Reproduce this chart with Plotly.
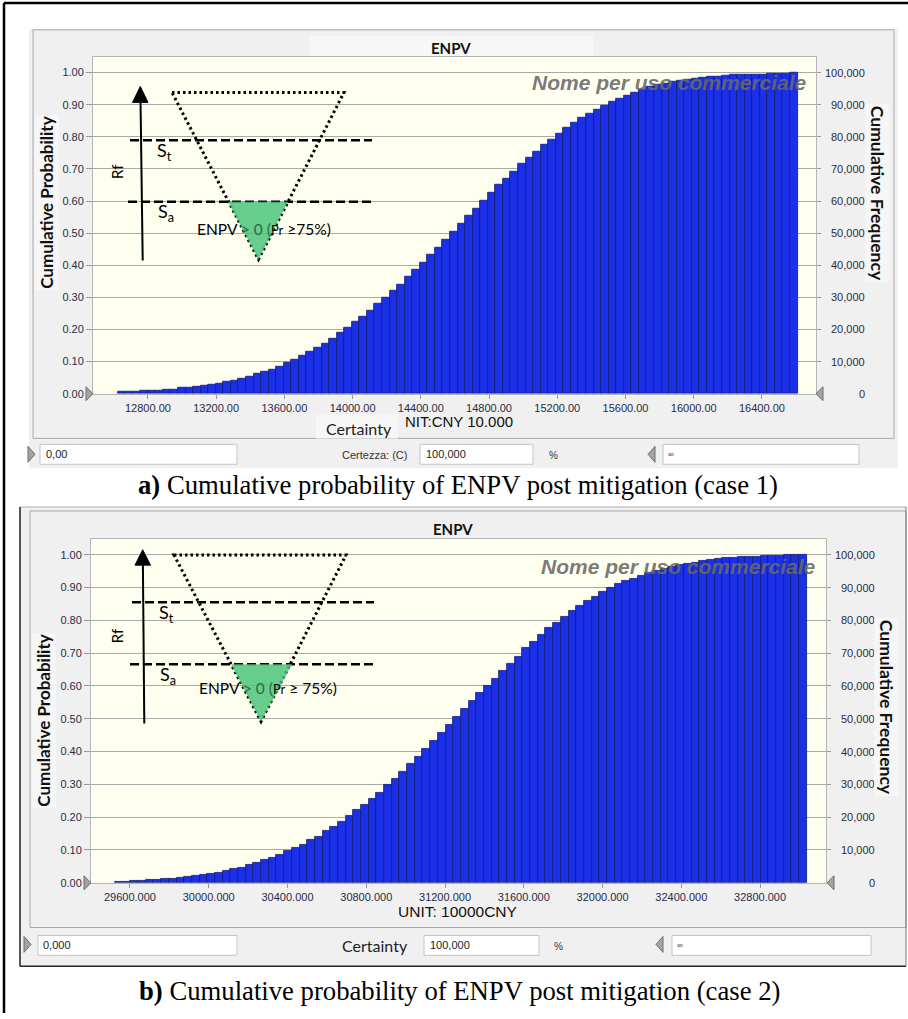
import plotly.graph_objects as go

# ---------------- data ----------------
TRIALS = 100000

# case 1: bins of ENPV (unit CNY 10.000)
A_BIN_START = 12622.0
A_BIN_WIDTH = 44.3
A_CUM_PROB = [
    0.005, 0.005, 0.006, 0.008, 0.010, 0.010, 0.012, 0.014, 0.018, 0.020,
    0.022, 0.025, 0.027, 0.032, 0.037, 0.042, 0.048, 0.053, 0.061, 0.069,
    0.076, 0.085, 0.097, 0.106, 0.118, 0.130, 0.143, 0.157, 0.172, 0.190,
    0.205, 0.223, 0.241, 0.260, 0.280, 0.299, 0.321, 0.341, 0.363, 0.386,
    0.409, 0.432, 0.456, 0.481, 0.504, 0.531, 0.555, 0.577, 0.602, 0.626,
    0.650, 0.671, 0.692, 0.715, 0.736, 0.754, 0.774, 0.792, 0.811, 0.827,
    0.843, 0.858, 0.873, 0.886, 0.897, 0.910, 0.920, 0.929, 0.937, 0.947,
    0.955, 0.961, 0.966, 0.971, 0.974, 0.977, 0.980, 0.983, 0.987, 0.988,
    0.990, 0.992, 0.993, 0.994, 0.995, 0.995, 0.997, 0.998, 0.998, 1.000,
]

# case 2: bins of ENPV (unit 10000 CNY)
B_BIN_START = 29524.0
B_BIN_WIDTH = 39.04
B_CUM_PROB = [
    0.004, 0.004, 0.005, 0.007, 0.008, 0.010, 0.011, 0.013, 0.015, 0.018,
    0.020, 0.023, 0.028, 0.030, 0.036, 0.042, 0.047, 0.056, 0.061, 0.069,
    0.077, 0.085, 0.096, 0.106, 0.117, 0.131, 0.141, 0.158, 0.171, 0.187,
    0.203, 0.221, 0.237, 0.257, 0.275, 0.298, 0.317, 0.339, 0.363, 0.385,
    0.409, 0.432, 0.457, 0.482, 0.505, 0.529, 0.554, 0.578, 0.599, 0.623,
    0.647, 0.669, 0.690, 0.715, 0.736, 0.755, 0.776, 0.793, 0.811, 0.829,
    0.845, 0.859, 0.872, 0.886, 0.899, 0.911, 0.920, 0.928, 0.937, 0.944,
    0.951, 0.958, 0.964, 0.968, 0.973, 0.976, 0.981, 0.984, 0.987, 0.990,
    0.990, 0.993, 0.993, 0.995, 0.996, 0.998, 0.998, 0.999, 0.999, 1.000,
]

A_XTICKS = [12800, 13200, 13600, 14000, 14400, 14800, 15200, 15600, 16000, 16400]
B_XTICKS = [29600, 30000, 30400, 30800, 31200, 31600, 32000, 32400, 32800]
PROB_TICKS = [0.0, 0.1, 0.2, 0.3, 0.4, 0.5, 0.6, 0.7, 0.8, 0.9, 1.0]
FREQ_TICKS = [0, 10000, 20000, 30000, 40000, 50000, 60000, 70000, 80000, 90000, 100000]

CAPTION_A = "<b>a)</b> Cumulative probability of ENPV post mitigation (case 1)"
CAPTION_B = "<b>b)</b> Cumulative probability of ENPV post mitigation (case 2)"

# ---------------- helpers ----------------
W, H = 908, 1019


def X(px):
    return px / W


def Y(py):
    return 1 - py / H


a_x = [A_BIN_START + A_BIN_WIDTH * (i + 0.5) for i in range(len(A_CUM_PROB))]
b_x = [B_BIN_START + B_BIN_WIDTH * (i + 0.5) for i in range(len(B_CUM_PROB))]

BAR = "#1b2fe6"
BAR_LINE = "#121d6e"
PANEL = "#f0f0f0"
CREAM = "#fffff0"
GRID = "#a9a9a9"
TICKC = "#2a2a44"
TICKFONT = dict(family="Liberation Sans, Arial", size=11, color=TICKC)
CAL = "Lato, Open Sans"

fig = go.Figure()
fig.add_trace(go.Bar(x=a_x, y=A_CUM_PROB, width=A_BIN_WIDTH, xaxis="x", yaxis="y",
                     marker=dict(color=BAR, line=dict(color=BAR_LINE, width=0.8)),
                     showlegend=False, hoverinfo="x+y"))
fig.add_trace(go.Scatter(x=a_x, y=[p * TRIALS for p in A_CUM_PROB], xaxis="x", yaxis="y3",
                         mode="markers", marker=dict(opacity=0), showlegend=False, hoverinfo="skip"))
fig.add_trace(go.Bar(x=b_x, y=B_CUM_PROB, width=B_BIN_WIDTH, xaxis="x2", yaxis="y2",
                     marker=dict(color=BAR, line=dict(color=BAR_LINE, width=0.8)),
                     showlegend=False, hoverinfo="x+y"))
fig.add_trace(go.Scatter(x=b_x, y=[p * TRIALS for p in B_CUM_PROB], xaxis="x2", yaxis="y4",
                         mode="markers", marker=dict(opacity=0), showlegend=False, hoverinfo="skip"))

xcommon = dict(showgrid=False, zeroline=False, ticks="outside", ticklen=4, tickcolor="#999",
               showline=True, linecolor="#b5b5b5", linewidth=1, mirror=True, tickfont=TICKFONT)
ycommon = dict(showgrid=True, gridcolor=GRID, gridwidth=1, zeroline=False, ticks="outside",
               ticklen=6, tickcolor="#999", tickvals=PROB_TICKS, tickformat=".2f",
               showline=True, linecolor="#b5b5b5", linewidth=1, mirror=True, tickfont=TICKFONT)
rcommon = dict(showgrid=False, zeroline=False, ticks="outside", ticklen=4, tickcolor="#999",
               tickvals=FREQ_TICKS, showticklabels=False, side="right", showline=False)

fig.update_layout(
    width=W, height=H, autosize=False,
    margin=dict(l=0, r=0, t=0, b=0),
    paper_bgcolor="white", plot_bgcolor="rgba(0,0,0,0)",
    bargap=0,
    xaxis=dict(domain=[X(93), X(816)], anchor="y", range=[12478, 16717],
               tickvals=A_XTICKS, tickformat=".2f", **xcommon),
    yaxis=dict(domain=[Y(396), Y(57)], anchor="x", range=[0, 1.0495], **ycommon),
    yaxis3=dict(overlaying="y", anchor="x", range=[0, 1.0495 * TRIALS], **rcommon),
    xaxis2=dict(domain=[X(91), X(826)], anchor="y2", range=[29402, 33135],
                tickvals=B_XTICKS, tickformat=".3f", **xcommon),
    yaxis2=dict(domain=[Y(888), Y(542)], anchor="x2", range=[0, 1.0485], **ycommon),
    yaxis4=dict(overlaying="y2", anchor="x2", range=[0, 1.0485 * TRIALS], **rcommon),
)

shapes = []
ann = []


def rect(x0, y0, x1, y1, fill=None, line=None, lw=1, layer="below"):
    shapes.append(dict(type="rect", xref="paper", yref="paper", x0=X(x0), x1=X(x1), y0=Y(y1), y1=Y(y0),
                       fillcolor=fill if fill else "rgba(0,0,0,0)",
                       line=dict(color=line if line else "rgba(0,0,0,0)", width=lw if line else 0),
                       layer=layer))


def seg(x0, y0, x1, y1, color="black", w=1, dash="solid", layer="above"):
    shapes.append(dict(type="line", xref="paper", yref="paper", x0=X(x0), y0=Y(y0), x1=X(x1), y1=Y(y1),
                       line=dict(color=color, width=w, dash=dash), layer=layer))


def poly(pts, fill=None, line=None, w=1, dash="solid", opacity=1.0, layer="above"):
    p = "M " + " L ".join(f"{X(a):.5f},{Y(b):.5f}" for a, b in pts) + " Z"
    shapes.append(dict(type="path", xref="paper", yref="paper", path=p,
                       fillcolor=fill if fill else "rgba(0,0,0,0)",
                       line=dict(color=line if line else "rgba(0,0,0,0)", width=w if line else 0, dash=dash),
                       opacity=opacity, layer=layer))


def text(x, y, t, size=11, color="#222", family="Liberation Sans, Arial", xanchor="center",
         angle=0, bg=None, yanchor="middle", pad=1):
    d = dict(xref="paper", yref="paper", x=X(x), y=Y(y), text=t,
             showarrow=False, xanchor=xanchor, yanchor=yanchor, textangle=angle,
             font=dict(size=size, color=color, family=family))
    if bg:
        d["bgcolor"] = bg
        d["borderpad"] = pad
    ann.append(d)


# ----- outer page border -----
seg(4, 3, 908, 3, "black", 2.5, layer="below")
seg(4, 3, 4, 1019, "black", 2.5, layer="below")

# ----- panel a background -----
rect(29, 29, 898, 471, fill=PANEL)
rect(33, 30, 894, 441, line="#a8a8a8")
rect(310, 36, 593, 57, fill="#f7f7f7")
rect(93, 57, 816, 396, fill=CREAM)
rect(316, 417, 398, 441, fill="#f6f6f6")

# ----- panel b background -----
rect(20, 510, 906, 972, fill=PANEL)
rect(30, 514, 906, 933, line="#a8a8a8")
rect(91, 542, 826, 888, fill=CREAM)
seg(20, 510, 906, 510, "#b0b0b0", 1, layer="below")
seg(20, 510, 20, 972, "#222", 1.5, layer="below")
seg(20, 972, 906, 972, "#222", 1.5, layer="below")
seg(906, 510, 906, 972, "#777", 1, layer="below")

# ----- slider triangles at axis zero -----
TRI_F, TRI_L = "#a3a3a3", "#6e6e6e"
poly([(86, 389), (93, 396), (86, 403)], TRI_F, TRI_L)
poly([(823, 389), (816, 396), (823, 403)], TRI_F, TRI_L)
poly([(84, 881), (91, 888), (84, 895)], TRI_F, TRI_L)
poly([(834, 881), (827, 888), (834, 895)], TRI_F, TRI_L)

# ----- certainty strips -----
for (x0, x1) in [(40, 237), (420, 533), (663, 859)]:
    rect(x0, 447, x1, 467, fill="white", line="#c4c4c4")
for (x0, x1) in [(38, 237), (424, 539), (672, 871)]:
    rect(x0, 941, x1, 961, fill="white", line="#c4c4c4")
poly([(28, 449), (35, 457), (28, 465)], TRI_F, TRI_L)
poly([(655, 449), (648, 457), (655, 465)], TRI_F, TRI_L)
poly([(24, 942), (31, 950), (24, 958)], TRI_F, TRI_L)
poly([(663, 942), (656, 950), (663, 958)], TRI_F, TRI_L)

text(44, 457, "0,00", 11, xanchor="left")
text(340, 458, "Certezza: (C)", 11, "#333", xanchor="left")
text(424, 457, "100,000", 11, xanchor="left")
text(547, 458, "%", 10, "#333", xanchor="left")
text(666, 457, "∞", 8, "#333", xanchor="left")
text(41, 951, "0,000", 11, xanchor="left")
text(375, 951, "Certainty", 16, "#222", family=CAL)
text(428, 951, "100,000", 11, xanchor="left")
text(552, 952, "%", 10, "#333", xanchor="left")
text(675, 951, "∞", 8, "#333", xanchor="left")

# ----- titles -----
text(451, 48, "<b>ENPV</b>", 15, "#111", family=CAL)
text(453, 532, "<b>ENPV</b>", 15, "#111", family=CAL)
text(47, 204, "<b>Cumulative Probability</b>", 17, "#111", family=CAL, angle=-90, bg="#f6f6f6")
text(44, 725, "<b>Cumulative Probability</b>", 17, "#111", family=CAL, angle=-90, bg="#f6f6f6")
text(359, 431, "Certainty", 16, "#222", family=CAL)
text(459, 424, "NIT:CNY 10.000", 15, "#111")
text(457, 917, "UNIT: 10000CNY", 15.5, "#111")

# watermark
text(669, 83, "<b><i>Nome per uso commerciale</i></b>", 21, "rgba(105,105,105,0.9)")
text(678, 570, "<b><i>Nome per uso commerciale</i></b>", 21, "rgba(105,105,105,0.9)")

# right axis labels (cumulative frequency) then title boxes over them
for v in FREQ_TICKS:
    ann.append(dict(xref="paper", yref="y3", x=X(867), y=v, text=f"{v:,}", showarrow=False,
                    xanchor="right", yanchor="middle", font=TICKFONT))
    ann.append(dict(xref="paper", yref="y4", x=X(877), y=v, text=f"{v:,}", showarrow=False,
                    xanchor="right", yanchor="middle", font=TICKFONT))
text(877, 194, "<b>Cumulative Frequency</b>", 17.5, "#111", family=CAL, angle=90, bg="#f6f6f6")
text(886, 711, "<b>Cumulative Frequency</b>", 17.5, "#111", family=CAL, angle=90, bg="#f6f6f6")

# ----- risk diagram overlay, panel a -----
GREEN = "#4cc57c"
DASH = "9px,4px"
DOT = "2.5px,3px"
seg(142.7, 262, 140.5, 100, "black", 2)
poly([(140.3, 87), (132.5, 103), (148, 103)], "black", "black", 1)
seg(130, 141, 372, 141, "black", 2.5, DASH)
seg(128, 203, 371, 203, "black", 2.5, DASH)
poly([(172, 93), (344, 93), (258.5, 261)], None, "black", 3, DOT)
poly([(228, 203), (288, 203), (258.5, 261)], GREEN, None, opacity=0.85)
text(117, 173, "Rf", 15, "black", family=CAL, angle=-90)
text(164, 152, "S<sub>t</sub>", 18, "black", family=CAL)
text(166, 214, "S<sub>a</sub>", 18, "black", family=CAL)
text(264, 230, "ENPV <span style='color:#2f6a47'>&gt; 0 (</span><span style='font-size:13px'>Pr</span> ≥75%)",
     15.5, "black", family=CAL)

# ----- risk diagram overlay, panel b -----
seg(144.3, 727.7, 142.9, 568, "black", 2)
poly([(142.7, 553), (135, 568.5), (150.5, 568.5)], "black", "black", 1)
seg(132, 605.7, 374, 605.7, "black", 2.5, DASH)
seg(130, 668.3, 373, 668.3, "black", 2.5, DASH)
poly([(174, 558.3), (346, 558.3), (261, 725.7)], None, "black", 3, DOT)
poly([(231, 668.3), (292, 668.3), (261, 725.7)], GREEN, None, opacity=0.85)
text(117, 640, "Rf", 15, "black", family=CAL, angle=-90)
text(166, 617, "S<sub>t</sub>", 18, "black", family=CAL)
text(168, 679, "S<sub>a</sub>", 18, "black", family=CAL)
text(268, 692, "ENPV <span style='color:#2f6a47'>&gt; 0 (</span><span style='font-size:13px'>Pr</span> ≥ 75%)",
     15.5, "black", family=CAL)

# ----- captions -----
text(458, 488, CAPTION_A, 26.7, "black", family="Liberation Serif, Times New Roman")
text(459, 997, CAPTION_B, 26.7, "black", family="Liberation Serif, Times New Roman")

fig.update_layout(shapes=shapes, annotations=ann)
fig.write_html("out.html")
